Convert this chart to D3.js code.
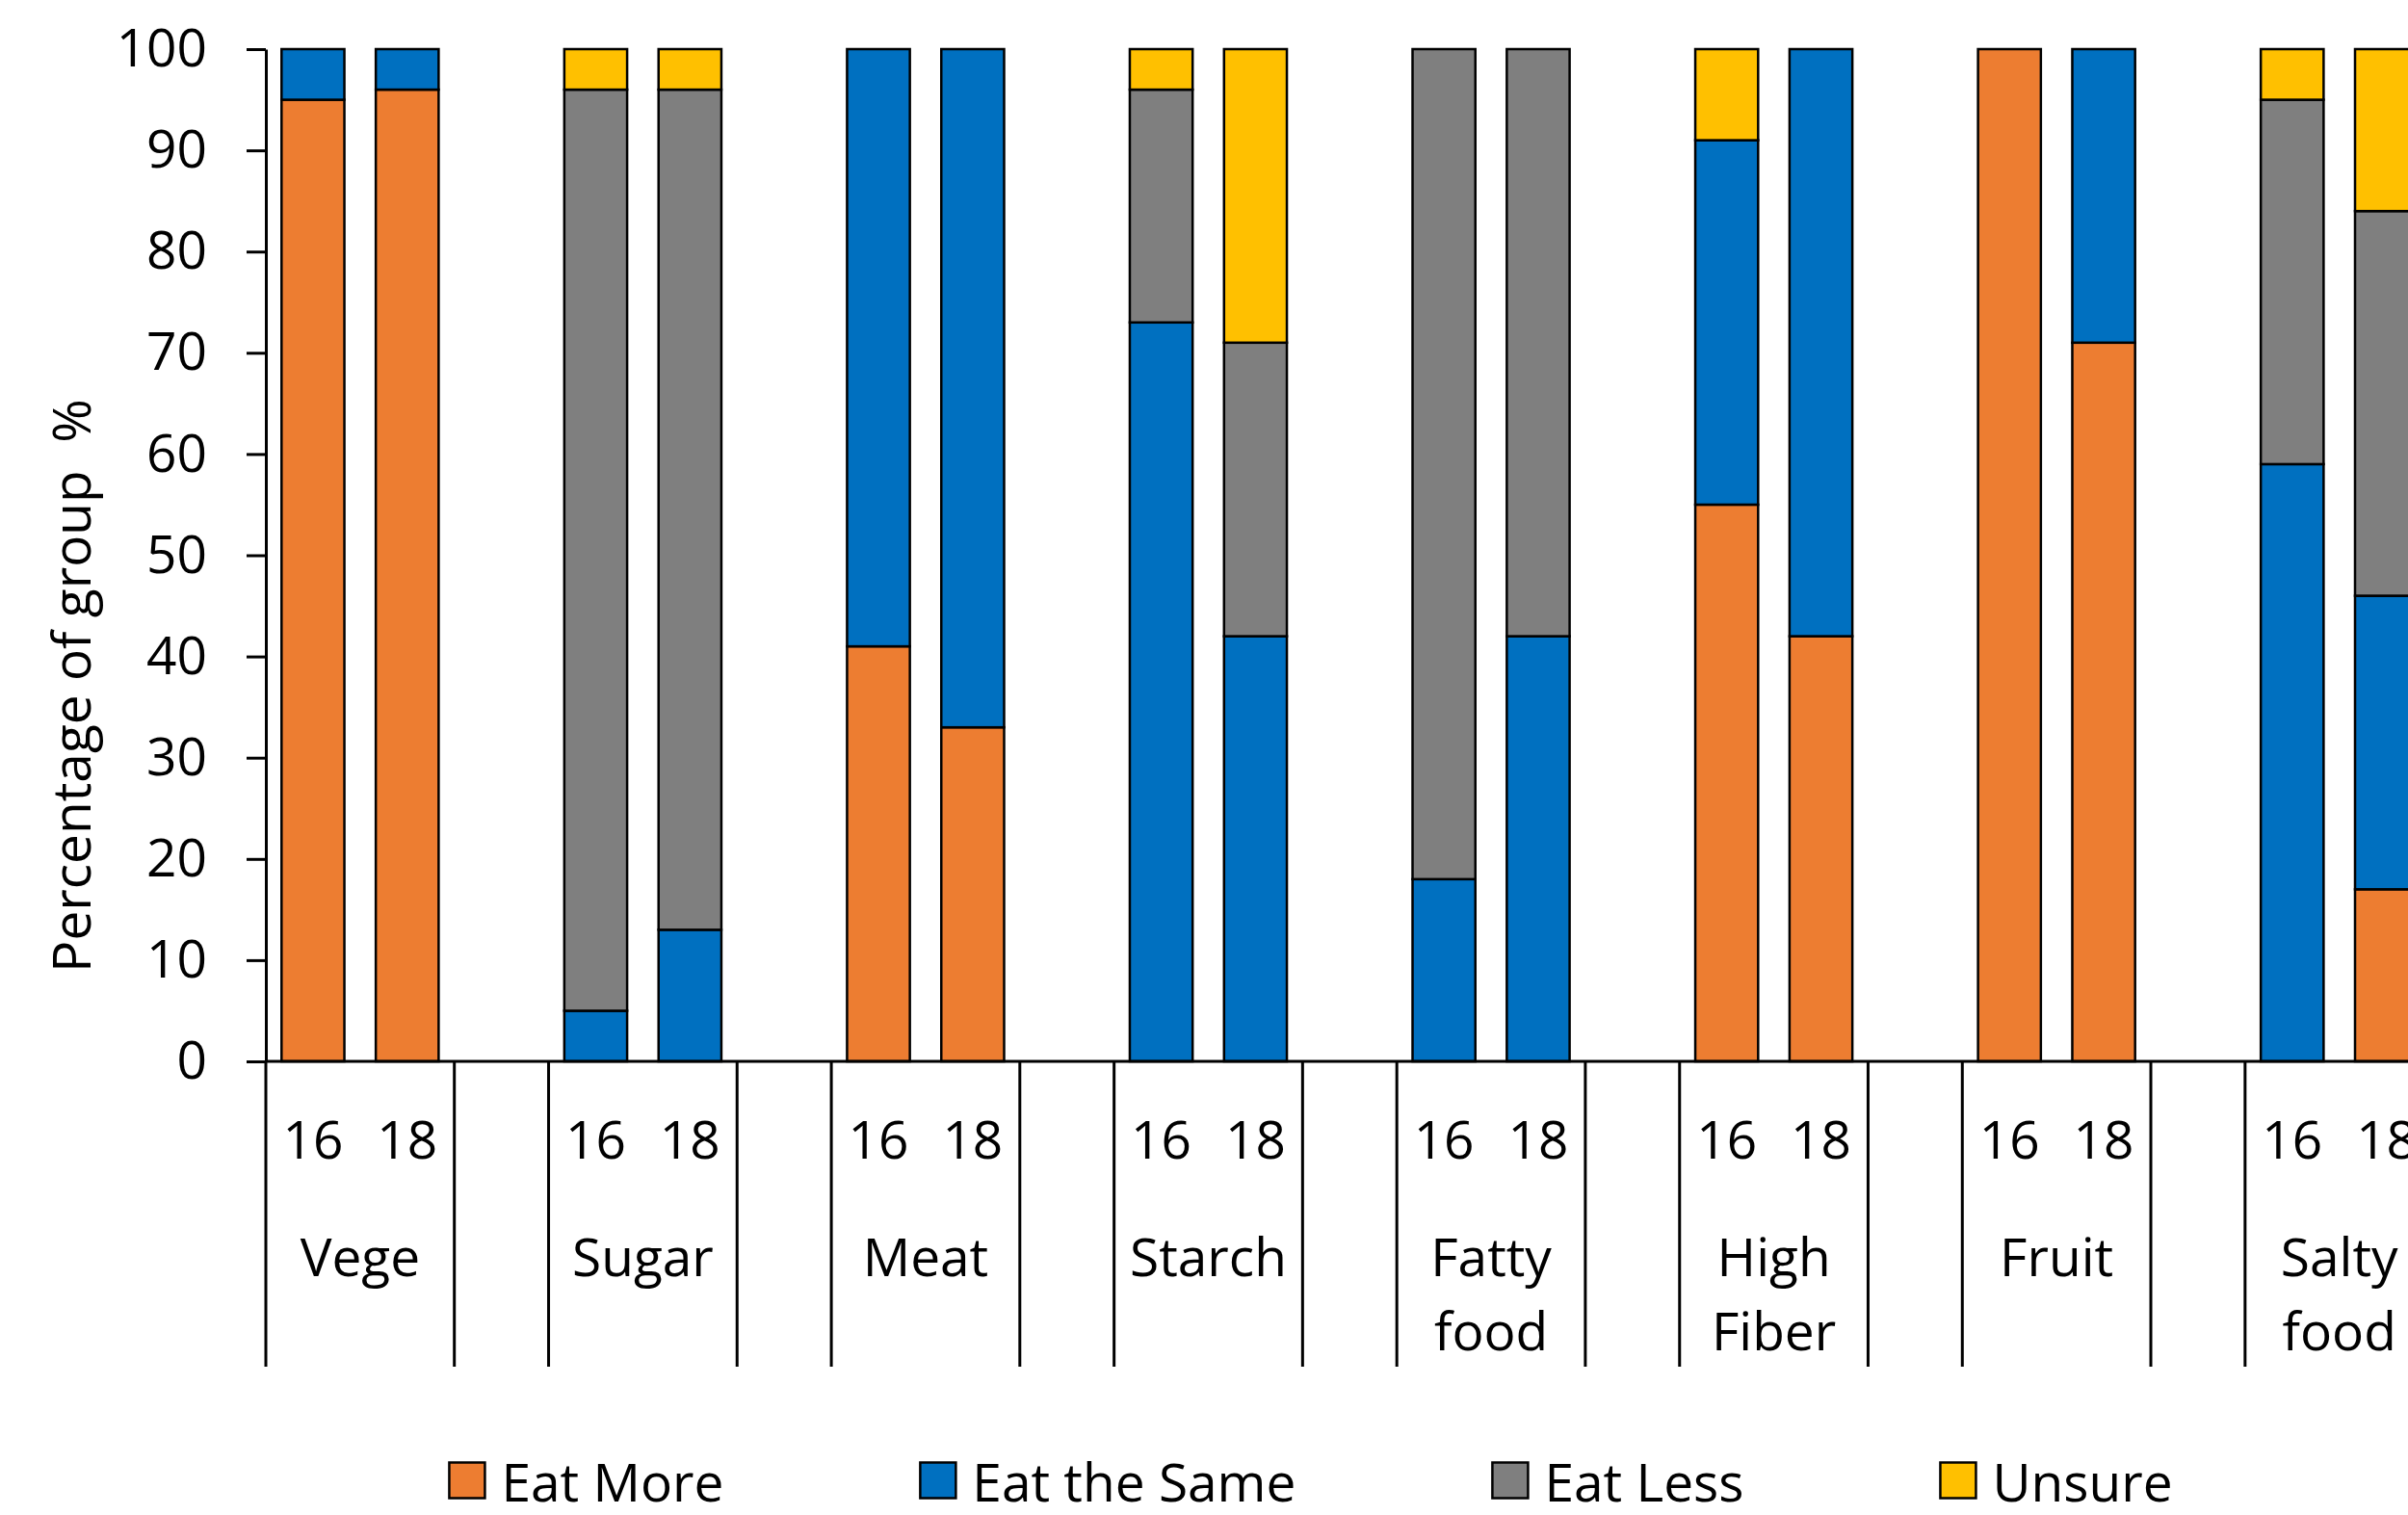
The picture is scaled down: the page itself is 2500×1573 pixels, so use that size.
<!DOCTYPE html>
<html>
<head>
<meta charset="utf-8">
<script src="https://cdn.jsdelivr.net/npm/d3@7"></script>
<style>
  html, body { margin: 0; padding: 0; background: #fff; overflow: hidden; }
  svg { display: block; }
  text { font-family: "Open Sans", "Noto Sans", sans-serif; fill: #000; }
</style>
</head>
<body>
<svg id="chart" width="2500" height="1573"></svg>
<script>
// Food groups and the two age cohorts shown for each
const categories = ["Vege", "Sugar", "Meat", "Starch", "Fatty food", "High Fiber", "Fruit", "Salty food"];
const ages = ["16", "18"];
const seriesNames = ["Eat More", "Eat the Same", "Eat Less", "Unsure"];
const seriesColors = ["#ED7D31", "#0070C0", "#7F7F7F", "#FFC000"];

// Percentages, ordered [cat0-16, cat0-18, cat1-16, cat1-18, ...]
const eatMore = [95, 96, 0, 0, 41, 33, 0, 0, 0, 0, 55, 42, 100, 71, 0, 17];
const eatSame = [5, 4, 5, 13, 59, 67, 73, 42, 18, 42, 36, 58, 0, 29, 59, 29];
const eatLess = [0, 0, 91, 83, 0, 0, 23, 29, 82, 58, 0, 0, 0, 0, 36, 38];
const unsure  = [0, 0, 4, 4, 0, 0, 4, 29, 0, 0, 9, 0, 0, 0, 5, 16];

const yTicks = [0, 10, 20, 30, 40, 50, 60, 70, 80, 90, 100];
const yTitle = "Percentage of group  %";

// ---- layout ----
const svg = d3.select("#chart");
const plotLeft = 276, plotTop = 51, plotBottom = 1102;
const slotWidth = 97.85;
const axisLabelBottom = 1419;
const fontSize = 55;

// every group gets its two bars plus one empty spacer slot
const slots = [];
categories.forEach((c, ci) => {
  ages.forEach((a, ai) => slots.push({ key: c + "|" + a, cat: c, age: a, idx: ci * 2 + ai }));
  slots.push({ key: c + "|gap", cat: c, age: null, idx: -1 });
});

const x = d3.scaleBand()
  .domain(slots.map(s => s.key))
  .range([plotLeft, plotLeft + slots.length * slotWidth])
  .paddingInner(1 / 3)
  .paddingOuter(1 / 6);

const y = d3.scaleLinear().domain([0, 100]).range([plotBottom, plotTop]);

// ---- stacked bars ----
const keys = ["more", "same", "less", "unsure"];
const rows = slots.filter(s => s.age !== null).map(s => ({
  key: s.key,
  more: eatMore[s.idx], same: eatSame[s.idx], less: eatLess[s.idx], unsure: unsure[s.idx]
}));
const stacked = d3.stack().keys(keys)(rows);

const barsG = svg.append("g");
stacked.forEach((layer, li) => {
  barsG.append("g")
    .attr("fill", seriesColors[li])
    .selectAll("rect")
    .data(layer.filter(d => d[1] - d[0] > 0))
    .join("rect")
    .attr("x", d => x(d.data.key))
    .attr("width", x.bandwidth())
    .attr("y", d => y(d[1]))
    .attr("height", d => y(d[0]) - y(d[1]))
    .attr("stroke", "#000")
    .attr("stroke-width", 2.5);
});

// ---- y axis ----
const yAxis = d3.axisLeft(y)
  .tickValues(yTicks)
  .tickSize(20)
  .tickSizeOuter(0)
  .tickPadding(41);
const yG = svg.append("g").attr("transform", `translate(${plotLeft},0)`).call(yAxis);
yG.attr("font-family", null);
yG.selectAll("path, line").attr("stroke", "#000").attr("stroke-width", 3);
yG.selectAll("text").attr("font-size", fontSize).attr("fill", "#000");

svg.append("text")
  .attr("transform", `translate(72, 712) rotate(-90)`)
  .attr("text-anchor", "middle")
  .attr("dominant-baseline", "central")
  .attr("font-size", fontSize)
  .style("white-space", "pre")
  .text(yTitle);

// ---- x axis: baseline, group dividers, two-tier labels ----
svg.append("line")
  .attr("x1", plotLeft).attr("x2", x.range()[1])
  .attr("y1", y(0)).attr("y2", y(0))
  .attr("stroke", "#000").attr("stroke-width", 3);

const step = x.step();
const boundaries = d3.range(0, slots.length + 1).filter(k => k % 3 !== 1);
svg.append("g").selectAll("line")
  .data(boundaries)
  .join("line")
  .attr("x1", k => x.range()[0] + k * step)
  .attr("x2", k => x.range()[0] + k * step)
  .attr("y1", y(0))
  .attr("y2", axisLabelBottom)
  .attr("stroke", "#000")
  .attr("stroke-width", 3);

// age labels
svg.append("g").selectAll("text")
  .data(slots.filter(s => s.age !== null))
  .join("text")
  .attr("x", s => x(s.key) + x.bandwidth() / 2)
  .attr("y", 1181)
  .attr("text-anchor", "middle")
  .attr("dominant-baseline", "central")
  .attr("font-size", fontSize)
  .text(s => s.age);

// category labels, wrapped onto two lines where the name has two words
const catG = svg.append("g").selectAll("text")
  .data(categories)
  .join("text")
  .attr("x", c => x(c + "|16") - (step - x.bandwidth()) / 2 + step)
  .attr("y", 1303)
  .attr("text-anchor", "middle")
  .attr("dominant-baseline", "central")
  .attr("font-size", fontSize);
catG.each(function (c) {
  const words = c.split(" ");
  const t = d3.select(this);
  words.forEach((w, i) => {
    t.append("tspan")
      .attr("x", t.attr("x"))
      .attr("dy", i === 0 ? 0 : 77)
      .text(w);
  });
});

// ---- legend ----
const legendCenter = 1361, legendY = 1537, swatch = 37, swatchGap = 17, itemGap = 204;
const legendG = svg.append("g");
const items = seriesNames.map((name, i) => {
  const g = legendG.append("g");
  g.append("rect")
    .attr("x", 0).attr("y", legendY - swatch / 2)
    .attr("width", swatch).attr("height", swatch)
    .attr("fill", seriesColors[i])
    .attr("stroke", "#000").attr("stroke-width", 2.5);
  const t = g.append("text")
    .attr("x", swatch + swatchGap)
    .attr("y", legendY)
    .attr("dominant-baseline", "central")
    .attr("font-size", fontSize)
    .text(name);
  return { g, w: swatch + swatchGap + t.node().getComputedTextLength() };
});
const total = d3.sum(items, d => d.w) + itemGap * (items.length - 1);
let cx = legendCenter - total / 2;
items.forEach(it => {
  it.g.attr("transform", `translate(${cx},0)`);
  cx += it.w + itemGap;
});
</script>
</body>
</html>
